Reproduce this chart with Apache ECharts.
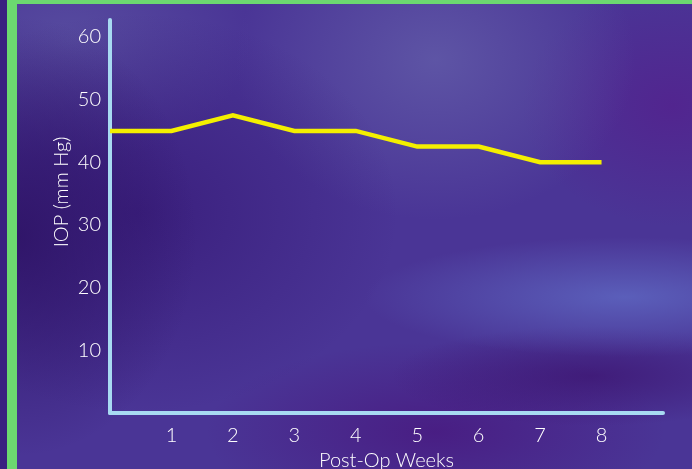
<!DOCTYPE html>
<html>
<head>
<meta charset="utf-8">
<script src="https://cdn.jsdelivr.net/npm/echarts@6/dist/echarts.min.js"></script>
<style>
html,body{margin:0;padding:0;width:692px;height:469px;overflow:hidden;background:#3a2080;}
#bg{position:absolute;left:17px;top:4px;width:675px;height:465px;
background:
 radial-gradient(ellipse 180px 220px at 0% 50%, rgba(45,18,100,0.85), rgba(45,18,100,0) 100%),
 radial-gradient(ellipse 260px 200px at 18% 45%, rgba(52,22,115,0.7), rgba(52,22,115,0) 100%),
 radial-gradient(ellipse 200px 160px at 62% 12%, rgba(100,95,170,0.75), rgba(100,95,170,0) 100%),
 radial-gradient(ellipse 260px 60px at 90% 63%, rgba(95,105,195,0.8), rgba(95,105,195,0) 100%),
 radial-gradient(ellipse 150px 120px at 97% 22%, rgba(85,30,140,0.7), rgba(85,30,140,0) 100%),
 radial-gradient(ellipse 200px 50px at 85% 80%, rgba(60,18,110,0.7), rgba(60,18,110,0) 100%),
 radial-gradient(ellipse 230px 90px at 62% 92%, rgba(72,22,125,0.75), rgba(72,22,125,0) 100%),
 radial-gradient(ellipse 180px 120px at 8% 8%, rgba(95,90,165,0.6), rgba(95,90,165,0) 100%),
 #4a3596;}
#gl{position:absolute;left:7px;top:0;width:10px;height:469px;background:#6cd870;}
#gt{position:absolute;left:7px;top:0;width:685px;height:4px;background:#6cd870;}
#main{position:absolute;left:0;top:0;width:692px;height:469px;}
</style>
</head>
<body>
<div id="bg"></div>
<div id="gl"></div>
<div id="gt"></div>
<div id="main"></div>
<script>
var weeks = [0, 1, 2, 3, 4, 5, 6, 7, 8];
var iop = [45, 45, 47.5, 45, 45, 42.5, 42.5, 40, 40];
var yTicks = [10, 20, 30, 40, 50, 60];
var xTicks = [1, 2, 3, 4, 5, 6, 7, 8];

var font = 'Lato, "Noto Sans", sans-serif';
var chart = echarts.init(document.getElementById('main'), null, {renderer: 'canvas'});
chart.setOption({
  backgroundColor: 'transparent',
  animation: false,
  grid: {left: 110, right: 29, top: 20, bottom: 56, containLabel: false, outerBoundsMode: 'none'},
  graphic: [{
    type: 'text', x: 62, y: 192, rotation: Math.PI / 2,
    style: {text: 'IOP (mm Hg)', fill: '#ffffff', font: '300 20px Lato, "Noto Sans", sans-serif',
      align: 'center', verticalAlign: 'middle'}
  }],
  xAxis: {
    type: 'value', min: 0, max: 9, interval: 1,
    name: 'Post-Op Weeks', nameLocation: 'middle', nameGap: 37,
    nameTextStyle: {color: '#ffffff', fontFamily: font, fontSize: 20, fontWeight: 300},
    axisLine: {show: true, lineStyle: {color: '#a8daf2', width: 4}},
    axisTick: {show: false}, splitLine: {show: false},
    axisLabel: {
      color: '#ffffff', fontFamily: font, fontSize: 20, fontWeight: 300, margin: 13,
      formatter: function (v) { return xTicks.indexOf(v) >= 0 ? String(v) : ''; }
    }
  },
  yAxis: {
    type: 'value', min: 0, max: 62.7, interval: 10,
    axisLine: {show: true, lineStyle: {color: '#a8daf2', width: 4}},
    axisTick: {show: false}, splitLine: {show: false},
    axisLabel: {
      color: '#ffffff', fontFamily: font, fontSize: 20, fontWeight: 300, margin: 9,
      showMaxLabel: false,
      formatter: function (v) { return yTicks.indexOf(v) >= 0 ? String(v) : ''; }
    }
  },
  series: [{
    type: 'line',
    data: weeks.map(function (w, i) { return [w, iop[i]]; }),
    showSymbol: false, symbol: 'none',
    lineStyle: {color: '#f4ef00', width: 4.5, join: 'miter'}
  }]
});
</script>
</body>
</html>
